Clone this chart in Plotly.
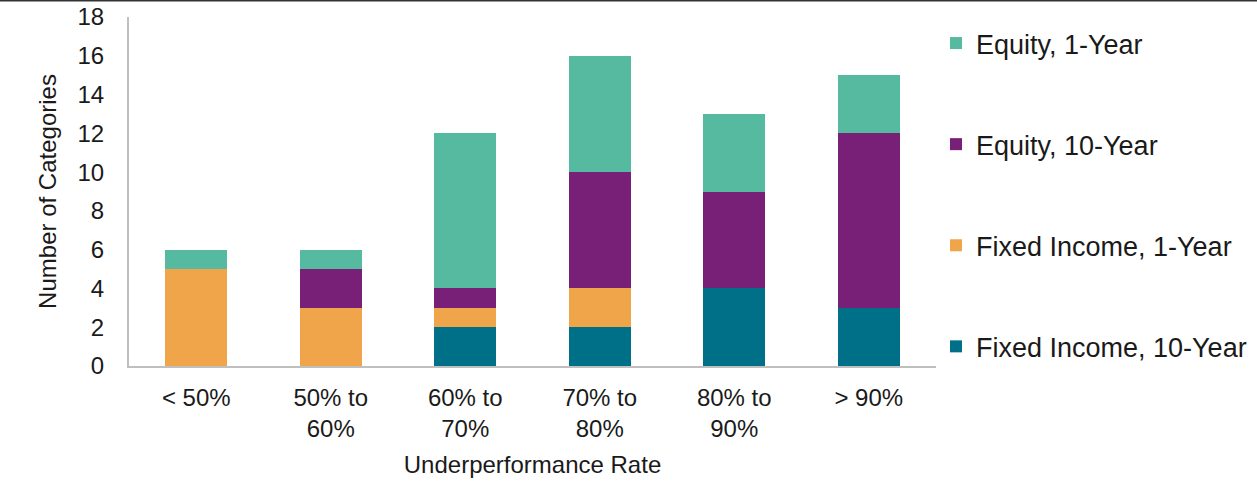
import plotly.graph_objects as go

categories = ["< 50%", "50% to<br>60%", "60% to<br>70%", "70% to<br>80%", "80% to<br>90%", "> 90%"]
fixed_income_10y = [0, 0, 2, 2, 4, 3]
fixed_income_1y = [5, 3, 1, 2, 0, 0]
equity_10y = [0, 2, 1, 6, 5, 9]
equity_1y = [1, 1, 8, 6, 4, 3]
y_ticks = [0, 2, 4, 6, 8, 10, 12, 14, 16, 18]

series = [
    ("Fixed Income, 10-Year", fixed_income_10y, "#006F88", 4),
    ("Fixed Income, 1-Year", fixed_income_1y, "#F0A54B", 3),
    ("Equity, 10-Year", equity_10y, "#781F78", 2),
    ("Equity, 1-Year", equity_1y, "#55BA9F", 1),
]

FONT = "Liberation Sans, Arial, sans-serif"
TXT = "#1a1a1a"

fig = go.Figure()
for i, (name, vals, color, rank) in enumerate(series):
    fig.add_trace(go.Bar(
        x=categories, y=vals, name=name, legendgroup=f"g{i}", legendrank=rank,
        marker=dict(color=color, line=dict(width=0)),
    ))

fig.update_layout(
    barmode="stack",
    bargap=0.54,
    width=1257, height=481,
    margin=dict(l=129, r=314, t=17, b=115),
    paper_bgcolor="white", plot_bgcolor="white",
    font=dict(family=FONT, size=24, color=TXT),
    showlegend=True,
    legend=dict(
        traceorder="grouped",
        tracegroupgap=63,
        xref="container", yref="container",
        x=936 / 1257, y=1 - 19 / 481,
        xanchor="left", yanchor="top",
        font=dict(family=FONT, size=27, color=TXT),
        itemwidth=30,
        maxheight=1,
        bgcolor="rgba(0,0,0,0)",
    ),
    xaxis=dict(
        showline=True, linecolor="#BFBFBF", linewidth=2,
        showgrid=False, ticks="", tickfont=dict(size=24),
        ticklabelstandoff=9,
        title=dict(text="Underperformance Rate", standoff=15, font=dict(size=24)),
        automargin=False,
    ),
    yaxis=dict(
        range=[0, 18], tickvals=y_ticks,
        showline=True, linecolor="#BFBFBF", linewidth=2,
        showgrid=False, zeroline=False, ticks="",
        ticklabelstandoff=18, tickfont=dict(size=24),
        title=dict(text="Number of Categories", standoff=14, font=dict(size=24)),
        automargin=False,
    ),
    shapes=[dict(type="line", xref="paper", yref="paper",
                 x0=-0.2, x1=1.5, y0=1 + 16.5 / 349, y1=1 + 16.5 / 349,
                 line=dict(color="#333333", width=2))],
)

fig.write_html("out.html", config={"displayModeBar": False},
               post_script="document.body.style.margin='0';")
